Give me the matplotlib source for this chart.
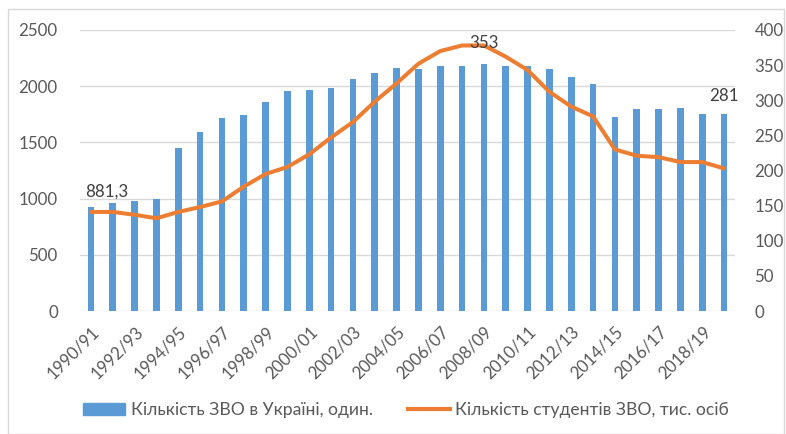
import matplotlib
matplotlib.use("Agg")
import matplotlib.pyplot as plt
from matplotlib.patches import Rectangle
from matplotlib.lines import Line2D
import numpy as np

plt.rcParams['font.family'] = ['Lato', 'DejaVu Sans']

years = ["1990/91", "1991/92", "1992/93", "1993/94", "1994/95", "1995/96", "1996/97",
         "1997/98", "1998/99", "1999/00", "2000/01", "2001/02", "2002/03", "2003/04",
         "2004/05", "2005/06", "2006/07", "2007/08", "2008/09", "2009/10", "2010/11",
         "2011/12", "2012/13", "2013/14", "2014/15", "2015/16", "2016/17", "2017/18",
         "2018/19", "2019/20"]
institutions = [922, 963, 979, 994, 1447, 1592, 1714, 1741, 1859, 1955, 1966, 1981,
                2061, 2114, 2165, 2150, 2180, 2180, 2194, 2180, 2180, 2150, 2085, 2019,
                1726, 1795, 1795, 1806, 1753, 1753]
students = [141, 141, 137, 132, 141, 148, 156, 177, 195, 205, 223, 247, 269, 298,
            324, 352, 370, 378, 378, 362, 343, 312, 291, 277, 230, 221, 219, 212,
            212, 203]
bar_label = "Кількість ЗВО в Україні, один."
line_label = "Кількість студентів ЗВО, тис. осіб"
annotations = [(0, "881,3"), (18, "353"), (29, "281")]

BLUE = "#5B9BD5"
ORANGE = "#ED7D31"
GRAY = "#595959"
FS = 12.2
FS_LEG = 12.6

fig = plt.figure(figsize=(7.86, 4.34), dpi=100)
fig.patches.append(Rectangle((8/786, 0), 776/786, 1 - 9/434, transform=fig.transFigure,
                             fill=False, edgecolor="#D9D9D9", linewidth=1))
ax = fig.add_axes([80/786, 1 - 311/434, 655/786, 281/434])
ax2 = ax.twinx()

x = np.arange(len(years))
ax.bar(x, institutions, width=0.31, color=BLUE, zorder=2)
ax.set_ylim(0, 2500)
ax.set_xlim(-0.5, len(years) - 0.5)
ax.set_yticks(np.arange(0, 2501, 500))
ax.grid(axis='y', color="#D9D9D9", linewidth=1, zorder=0)
ax.set_axisbelow(True)

ax2.plot(x, students, color=ORANGE, linewidth=2.9, solid_capstyle='round', zorder=3)
ax2.set_ylim(0, 400)
ax2.set_yticks(np.arange(0, 401, 50))

for a in (ax, ax2):
    for s in a.spines.values():
        s.set_visible(False)
    a.tick_params(length=0, colors=GRAY, labelsize=FS)
ax.tick_params(axis='y', pad=16)
ax2.tick_params(axis='y', pad=14)

ax.set_xticks(x[::2])
ax.set_xticklabels(years[::2], rotation=45, ha='right', va='top',
                   rotation_mode='anchor', fontsize=FS, color=GRAY)
ax.tick_params(axis='x', pad=9)

# offsets in pixels (dx, dy) for each data label
label_offsets = [(16, 20), (0, 2), (0, 72)]
for (i, txt), (dx, dy) in zip(annotations, label_offsets):
    ax2.annotate(txt, (x[i], students[i]), textcoords='offset pixels',
                 xytext=(dx, dy), ha='center', va='center', fontsize=FS, color="#404040",
                 zorder=4)

handles = [Rectangle((0, 0), 1, 1, color=BLUE),
           Line2D([0], [0], color=ORANGE, linewidth=3)]
fig.legend(handles, [bar_label, line_label], loc='center', bbox_to_anchor=(406/786, 1 - 410/434),
           ncol=2, frameon=False, fontsize=FS_LEG, labelcolor=GRAY, handlelength=2.4,
           handleheight=0.7, columnspacing=2.0, handletextpad=0.3)

fig.savefig("out.png", dpi=100)
